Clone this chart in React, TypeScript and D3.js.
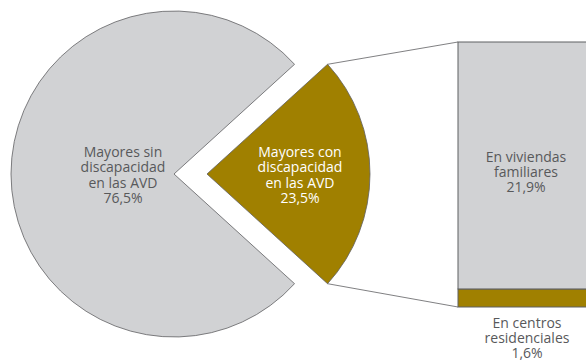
import React from "react";
import * as d3 from "d3";

const pieCategories = ["Mayores con discapacidad en las AVD", "Mayores sin discapacidad en las AVD"];
const pieValues = [23.5, 76.5];
const pieLabels = [
  ["Mayores con", "discapacidad", "en las AVD", "23,5%"],
  ["Mayores sin", "discapacidad", "en las AVD", "76,5%"],
];
const barCategories = ["En centros residenciales", "En viviendas familiares"];
const barValues = [1.6, 21.9];
const barLabels = [
  ["En centros", "residenciales", "1,6%"],
  ["En viviendas", "familiares", "21,9%"],
];

const GOLD = "#a08000";
const GRAY = "#d1d2d4";
const STROKE = "#5f6062";
const TEXT = "#58595b";
const FONT = "'Open Sans', 'Noto Sans', sans-serif";

export default function App() {
  const W = 586, H = 361;
  const R = 163;
  const cy = 174;
  const grayCx = 174;
  const goldCx = 207;
  const goldSpan = (pieValues[0] / d3.sum(pieValues)) * 2 * Math.PI;
  const start = Math.PI / 2 - goldSpan / 2;
  const pie = d3.pie<number>().sort(null).startAngle(start).endAngle(start + 2 * Math.PI);
  const arcs = pie(pieValues);
  const arc = d3.arc<d3.PieArcDatum<number>>().innerRadius(0).outerRadius(R);

  const barX = 458;
  const barW = 140;
  const total = d3.sum(barValues);
  const y = d3.scaleLinear().domain([0, total]).range([307, 42]);
  let acc = 0;
  const segs = barValues.map((v, i) => {
    const s = { i, y0: y(acc), y1: y(acc + v) };
    acc += v;
    return s;
  });

  const gA0 = arcs[0].startAngle, gA1 = arcs[0].endAngle;
  const p0: [number, number] = [goldCx + R * Math.sin(gA0), cy - R * Math.cos(gA0)];
  const p1: [number, number] = [goldCx + R * Math.sin(gA1), cy - R * Math.cos(gA1)];

  const lh = 15.3;
  const textBlock = (lines: string[], x: number, yc: number, fill: string) => (
    <text x={x} textAnchor="middle" fontFamily={FONT} fontSize={14} fill={fill}>
      {lines.map((l, k) => (
        <tspan key={k} x={x} y={yc + (k - (lines.length - 1) / 2) * lh + 5}>{l}</tspan>
      ))}
    </text>
  );

  return (
    <svg width={W} height={H} style={{ position: "absolute", left: 0, top: 0 }}>
      <rect width={W} height={H} fill="#fff" />
      <path d={arc(arcs[1]) || ""} transform={`translate(${grayCx},${cy})`} fill={GRAY} stroke={STROKE} strokeWidth={0.8} />
      <path d={arc(arcs[0]) || ""} transform={`translate(${goldCx},${cy})`} fill={GOLD} stroke={STROKE} strokeWidth={0.8} />
      <line x1={p0[0]} y1={p0[1]} x2={barX} y2={y(total)} stroke={STROKE} strokeWidth={0.8} />
      <line x1={p1[0]} y1={p1[1]} x2={barX} y2={y(0)} stroke={STROKE} strokeWidth={0.8} />
      {segs.map((s) => (
        <rect key={s.i} x={barX} y={s.y1} width={barW} height={s.y0 - s.y1}
          fill={s.i === 0 ? GOLD : GRAY} stroke={STROKE} strokeWidth={1} />
      ))}
      {textBlock(pieLabels[1], 123, 175, TEXT)}
      {textBlock(pieLabels[0], 300, 175, "#ffffff")}
      {textBlock(barLabels[1], 526, 172, TEXT)}
      {textBlock(barLabels[0], 527, 338, TEXT)}
    </svg>
  );
}
